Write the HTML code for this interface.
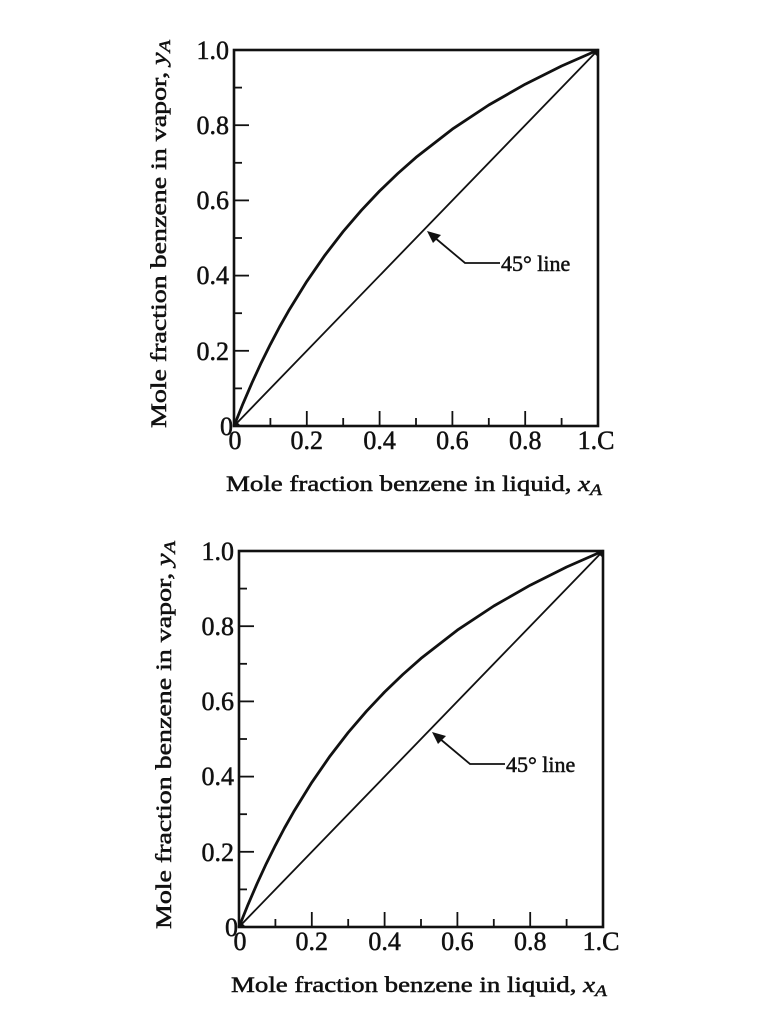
<!DOCTYPE html>
<html><head><meta charset="utf-8"><style>
html,body{margin:0;padding:0;background:#fff;}
svg{display:block;}
text{font-family:"Liberation Serif",serif;fill:#111;stroke:#111;stroke-width:0.5;}
</style></head><body>
<svg width="768" height="1024" viewBox="0 0 768 1024" xmlns="http://www.w3.org/2000/svg">
<defs>
<g id="plot">
  <rect x="0" y="0" width="364" height="376" fill="none" stroke="#111" stroke-width="2.6"/>
  <g stroke="#111" stroke-width="1.8">
    <line x1="36.4" y1="376" x2="36.4" y2="368"/><line x1="72.8" y1="376" x2="72.8" y2="361"/>
    <line x1="109.2" y1="376" x2="109.2" y2="368"/><line x1="145.6" y1="376" x2="145.6" y2="361"/>
    <line x1="182" y1="376" x2="182" y2="368"/><line x1="218.4" y1="376" x2="218.4" y2="361"/>
    <line x1="254.8" y1="376" x2="254.8" y2="368"/><line x1="291.2" y1="376" x2="291.2" y2="361"/>
    <line x1="327.6" y1="376" x2="327.6" y2="368"/>
    <line x1="0" y1="338.4" x2="8" y2="338.4"/><line x1="0" y1="300.8" x2="15" y2="300.8"/>
    <line x1="0" y1="263.2" x2="8" y2="263.2"/><line x1="0" y1="225.6" x2="15" y2="225.6"/>
    <line x1="0" y1="188" x2="8" y2="188"/><line x1="0" y1="150.4" x2="15" y2="150.4"/>
    <line x1="0" y1="112.8" x2="8" y2="112.8"/><line x1="0" y1="75.2" x2="15" y2="75.2"/>
    <line x1="0" y1="37.6" x2="8" y2="37.6"/>
  </g>
  <line x1="0" y1="376" x2="364" y2="0" stroke="#111" stroke-width="1.8"/>
  <polyline fill="none" stroke="#111" stroke-width="2.8" stroke-linejoin="round" points="0,376 9.1,353.4 18.2,332.3 27.3,312.6 36.4,294.3 45.5,277 54.6,260.9 72.8,231.4 91,205.1 109.2,181.5 127.4,160.3 145.6,141 163.8,123.5 182,107.4 218.4,79.1 254.8,55 291.2,34.2 327.6,16 364,0"/>
  <polygon points="356,0 364,0 364,7" fill="#111"/>
  <polygon points="0,376 0,369 7,376" fill="#111"/>
  <polyline fill="none" stroke="#111" stroke-width="1.8" points="200,187 231,213 266,213"/>
  <polygon points="193,181 207,185 199,193" fill="#111"/>
  <text x="267" y="221" font-size="22">45° line</text>
  <g font-size="26" text-anchor="end">
    <text x="-5" y="9">1.0</text>
    <text x="-5" y="84">0.8</text>
    <text x="-5" y="159">0.6</text>
    <text x="-5" y="234">0.4</text>
    <text x="-5" y="310">0.2</text>
    <text x="-1" y="385">0</text>
  </g>
  <g font-size="26" text-anchor="middle">
    <text x="1" y="399">0</text>
    <text x="72.8" y="399">0.2</text>
    <text x="145.6" y="399">0.4</text>
    <text x="218.4" y="399">0.6</text>
    <text x="291.2" y="399">0.8</text>
    <text x="362" y="399">1.C</text>
  </g>
  <text x="-8" y="441" font-size="22" textLength="376" lengthAdjust="spacingAndGlyphs">Mole fraction benzene in liquid, <tspan font-style="italic">x<tspan font-size="16" dy="4">A</tspan></tspan></text>
  <text transform="translate(-68,378) rotate(-90)" x="0" y="0" font-size="22" textLength="388" lengthAdjust="spacingAndGlyphs">Mole fraction benzene in vapor, <tspan font-style="italic">y<tspan font-size="16" dy="4">A</tspan></tspan></text>
</g>
</defs>
<use href="#plot" transform="translate(234,50)"/>
<use href="#plot" transform="translate(239,551)"/>
</svg>
</body></html>
